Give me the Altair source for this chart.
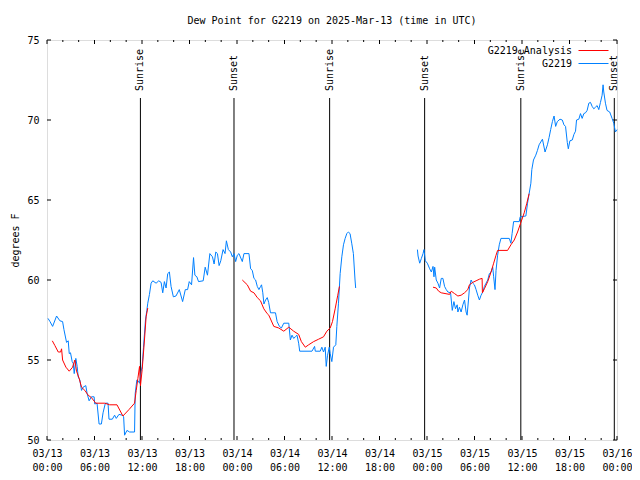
import altair as alt
import pandas as pd

FONT = "DejaVu Sans Mono"

# x values: hours after 2025-03-13 00:00 UTC
obs1_h = [0.13, 0.38, 0.71, 1.21, 1.63, 1.97, 2.14, 2.47, 2.68, 2.81, 2.97, 3.18, 3.31, 3.44, 3.64, 3.81, 3.94,
          4.15, 4.36, 4.56, 4.9, 5.07, 5.32, 5.61, 5.95, 6.03, 6.32, 6.58, 6.87, 7.08, 7.37, 7.71, 7.83, 8.25,
          8.54, 8.75, 9.09, 9.51, 9.68, 9.8, 10.1, 10.43, 11.06, 11.14, 11.35, 11.52, 11.69, 11.9, 12.02, 12.19,
          12.44, 12.61, 12.73, 12.94, 13.15, 13.36, 13.78, 14.12, 14.41, 14.62, 14.83, 15.04, 15.25, 15.46, 15.67,
          15.96, 16.29, 16.71, 17.13, 17.47, 17.76, 17.97, 18.26, 18.51, 18.68, 18.93, 19.14, 19.73, 19.98, 20.27,
          20.57, 20.9, 21.11, 21.32, 21.53, 21.74, 21.95, 22.24, 22.49, 22.66, 22.91, 23.2, 23.41, 23.62, 23.83,
          24.04, 24.25, 24.67, 24.88, 25.51, 25.72, 25.93, 26.14, 26.35, 26.56, 26.77, 26.98, 27.1, 27.26, 27.4,
          27.61, 27.82, 28.0, 28.23, 28.86, 29.07, 29.36, 29.61, 29.91, 30.54, 30.74, 30.95, 31.16, 31.37, 31.58,
          31.79, 31.92, 33.47, 33.8, 33.89, 34.51, 34.72, 34.93, 35.14, 35.27, 35.44, 35.65, 35.77, 35.98, 36.19,
          36.48, 36.61, 36.82, 37.03, 37.24, 37.45, 37.66, 37.87, 38.07, 38.28, 38.49, 38.7, 38.91, 38.99]
obs1_v = [57.6, 57.4, 57.1, 57.75, 57.45, 57.4, 56.9, 56.1, 56.2, 55.4, 55.45, 54.9, 54.8, 54.15, 55.1, 54.6, 53.95,
          53.75, 53.1, 53.3, 53.4, 52.9, 52.45, 52.7, 52.7, 52.25, 52.3, 51.0, 51.0, 51.7, 52.3, 52.3, 51.3, 51.3,
          51.55, 51.35, 51.6, 51.55, 51.45, 50.3, 50.6, 50.5, 50.5, 52.9, 53.75, 53.7, 53.55, 54.3, 54.6, 55.8,
          57.5, 58.1, 58.55, 59.1, 59.8, 59.95, 59.8, 59.95, 59.85, 59.2, 59.9, 59.5, 60.4, 60.5, 59.6,
          58.95, 59.0, 59.4, 58.65, 59.4, 59.4, 59.9, 59.7, 61.4, 60.3, 60.2, 59.9, 59.95, 60.8, 60.3,
          61.65, 61.45, 61.0, 61.75, 61.65, 60.9, 61.2, 61.9, 61.65, 62.45, 61.9, 61.75, 61.45, 61.65, 61.15,
          61.55, 61.65, 61.15, 61.65, 61.65, 60.7, 60.6, 60.1, 60.0, 59.6, 59.4, 59.6, 59.7, 59.2, 58.5,
          58.75, 58.9, 58.6, 57.95, 57.95, 57.4, 57.1, 57.0, 57.3, 57.3, 56.25, 56.55, 56.35, 56.45, 56.55,
          56.05, 55.55, 55.55, 55.85, 55.55, 55.55, 55.8, 55.5, 55.8, 54.6, 55.3, 55.8, 55.4, 54.9, 55.8,
          55.95, 57.1, 58.55, 60.4, 61.45, 62.2, 62.6, 62.9, 63.0, 62.9, 62.3, 61.65, 60.0, 59.5]

obs2_h = [46.79, 46.87, 47.08, 47.29, 47.5, 47.62, 47.79, 48.04, 48.34, 48.55, 48.76, 48.88, 48.97, 49.17, 49.38,
          49.59, 49.8, 50.01, 50.22, 50.43, 50.64, 50.98, 51.19, 51.4, 51.6, 51.81, 51.9, 52.1, 52.31, 52.53,
          52.74, 52.94, 53.07, 53.24, 53.36, 53.57, 53.78, 53.99, 54.2, 54.41, 54.62, 54.83, 55.04, 55.25, 55.46,
          55.67, 55.88, 56.09, 56.3, 56.42, 56.59, 56.72, 56.92, 57.13, 57.34, 58.39, 58.6, 58.75, 58.94, 59.65,
          59.77, 60.49, 60.7, 60.9, 61.12, 61.24, 61.45, 61.74, 61.95, 62.16, 62.58, 62.91, 63.21, 63.42, 63.62,
          63.84, 64.05, 64.25, 64.46, 64.8, 65.09, 65.3, 65.5, 65.72, 65.85, 66.05, 66.35, 66.56, 66.76, 66.89,
          67.18, 67.39, 67.6, 67.81, 68.02, 68.23, 68.44, 68.65, 68.86, 69.07, 69.28, 69.49, 69.7, 69.91, 70.12,
          70.24, 70.33, 70.54, 70.74, 71.08, 71.38, 71.59, 71.8, 72.0]
obs2_v = [61.9, 61.5, 61.05, 61.35, 61.65, 61.9, 61.2, 61.05, 60.7, 60.5, 60.85, 60.2, 60.8, 60.0, 59.8,
          59.5, 60.1, 60.1, 59.6, 59.4, 59.25, 59.2, 58.1, 58.65, 58.2, 58.45, 58.0, 58.3, 58.0, 58.45,
          58.75, 58.0, 57.8, 58.75, 59.5, 60.0, 59.8, 59.7, 59.4, 59.05, 58.75, 59.05, 59.25, 59.6, 59.8,
          60.0, 60.4, 60.5, 60.8, 60.2, 59.4, 60.6, 61.55, 62.2, 62.6, 62.6, 62.3, 62.9, 63.65, 63.65,
          63.95, 64.0, 64.8, 65.4, 66.05, 66.9, 67.5, 67.8, 68.1, 68.45, 68.8, 68.0, 68.45, 68.9, 69.4,
          69.9, 70.25, 69.6, 69.9, 70.05, 70.0, 69.7, 69.6, 68.6, 68.2, 68.7, 68.75, 69.1, 69.3, 70.0,
          70.05, 70.4, 70.1, 70.4, 70.45, 70.6, 71.05, 71.1, 70.85, 70.7, 70.8, 70.9, 70.65, 71.1, 71.55,
          72.2, 71.75, 71.05, 70.6, 70.5, 70.1, 69.8, 69.25, 69.4]

ana1_h = [0.67, 1.0, 1.42, 1.72, 1.84, 1.97, 2.39, 2.81, 3.23, 3.52, 3.73, 4.06, 4.36, 4.78, 5.2, 5.61, 6.16,
          7.29, 7.92, 8.84, 9.59, 10.35, 11.06, 11.27, 11.48, 11.69, 11.81, 12.02, 12.31, 12.52, 12.73]
ana1_v = [56.2, 55.9, 55.5, 55.5, 55.7, 55.0, 54.55, 54.3, 54.55, 55.0, 54.3, 53.85, 53.3, 53.1, 52.8, 52.65, 52.3,
          52.3, 52.2, 52.2, 51.5, 51.9, 52.3, 53.1, 53.85, 54.6, 53.4, 54.4, 56.25, 57.7, 58.25]
ana2_h = [24.67, 25.3, 25.72, 26.14, 26.56, 26.97, 27.39, 27.81, 28.02, 28.65, 29.28, 29.91, 30.54, 31.16, 31.79,
          32.13, 32.63, 33.05, 33.68, 34.31, 34.93, 35.35, 35.77, 36.06, 36.4, 36.73, 36.94]
ana2_v = [60.0, 59.7, 59.3, 59.2, 58.9, 58.7, 58.2, 57.9, 57.8, 57.1, 57.0, 56.8, 57.05, 56.8, 56.6,
          56.15, 55.8, 55.95, 56.15, 56.3, 56.45, 56.8, 57.0, 57.4, 58.2, 59.05, 59.6]
ana3_h = [48.76, 49.17, 49.47, 49.8, 50.85, 51.06, 51.48, 51.9, 52.31, 52.74, 53.15, 53.36, 53.78, 54.2, 54.62,
          54.96, 55.0, 55.25, 55.67, 56.09, 56.42, 56.72, 56.92, 58.18, 58.6, 59.02, 59.44, 59.86, 60.28, 60.61, 60.9]
ana3_v = [59.55, 59.5, 59.3, 59.2, 59.1, 59.3, 59.15, 59.0, 59.05, 59.2, 59.4, 59.7, 59.85, 59.95, 60.05,
          60.1, 59.2, 59.45, 59.9, 60.5, 61.05, 61.55, 61.85, 61.85, 62.2, 62.5, 63.0, 63.6, 64.2, 64.8, 65.4]

series_names = ["G2219 Analysis", "G2219"]
series_colors = ["#ff0000", "#0080ff"]

sun_hours = [11.8, 23.62, 35.7, 47.7, 59.85, 71.66]
sun_labels = ["Sunrise", "Sunset", "Sunrise", "Sunset", "Sunrise", "Sunset"]

x_major = list(range(0, 73, 6))
x_minor = [h for h in range(0, 73, 2) if h % 6 != 0]
y_ticks = [50, 55, 60, 65, 70, 75]

W, H = 570, 400


def seg_df(hours, vals, series, seg):
    return pd.DataFrame({"h": hours, "v": vals, "series": series, "seg": seg})


obs_df = pd.concat([seg_df(obs1_h, obs1_v, "G2219", "o1"), seg_df(obs2_h, obs2_v, "G2219", "o2")])
ana_df = pd.concat([seg_df(ana1_h, ana1_v, "G2219 Analysis", "a1"),
                    seg_df(ana2_h, ana2_v, "G2219 Analysis", "a2"),
                    seg_df(ana3_h, ana3_v, "G2219 Analysis", "a3")])

x_scale = alt.Scale(domain=[0, 72], nice=False, zero=False)
y_scale = alt.Scale(domain=[50, 75], nice=False, zero=False)

label_expr = ("['03/' + (13 + floor(datum.value / 24)), "
              "(datum.value % 24 < 10 ? '0' : '') + (datum.value % 24) + ':00']")

x_axis = alt.Axis(values=x_major, labelExpr=label_expr, title=None, ticks=False, tickSize=0, domain=False,
                  grid=False, labelPadding=8, labelLineHeight=14, labelFont=FONT, labelFontSize=10,
                  labelColor="black", labelFlush=False, labelOverlap=False)
y_axis = alt.Axis(values=y_ticks, title="degrees F", titleX=-32, titleY=200, titleAngle=270,
                  titleAlign="center", titleBaseline="middle", titleFont=FONT, titleFontSize=10,
                  titleFontWeight="normal", titleColor="black", ticks=False, tickSize=0, domain=False,
                  grid=False, labelPadding=8, labelFont=FONT, labelFontSize=10, labelColor="black")

color = alt.Color("series:N", scale=alt.Scale(domain=series_names, range=series_colors),
                  legend=alt.Legend(title=None, orient="none", legendX=541, legendY=5,
                                    symbolType="M-3,0H3", symbolSize=100, symbolStrokeWidth=1,
                                    symbolFillColor="transparent",
                                    labelAlign="right", labelOffset={"expr": "-27"},
                                    labelFont=FONT, labelFontSize=10, labelColor="black", rowPadding=2,
                                    padding=0))

obs_line = alt.Chart(obs_df).mark_line(strokeWidth=1).encode(
    x=alt.X("h:Q", scale=x_scale, axis=x_axis),
    y=alt.Y("v:Q", scale=y_scale, axis=y_axis),
    color=color, detail="seg:N", order="h:Q")
ana_line = alt.Chart(ana_df).mark_line(strokeWidth=1).encode(
    x=alt.X("h:Q", scale=x_scale), y=alt.Y("v:Q", scale=y_scale),
    color=color, detail="seg:N", order="h:Q")

sun_df = pd.DataFrame({"h": sun_hours, "label": sun_labels})
sun_rules = alt.Chart(sun_df).mark_rule(color="black", strokeWidth=1).encode(
    x=alt.X("h:Q", scale=x_scale), y=alt.value(58), y2=alt.value(H))
sun_text = alt.Chart(sun_df).mark_text(angle=270, align="left", baseline="middle", font=FONT, fontSize=10,
                                       color="black").encode(
    x=alt.X("h:Q", scale=x_scale), y=alt.value(51), text="label:N")


def xticks(vals, y0, y1):
    return alt.Chart(pd.DataFrame({"t": vals})).mark_rule(color="black", strokeWidth=1).encode(
        x=alt.X("t:Q", scale=x_scale), y=alt.value(y0), y2=alt.value(y1))


def yticks(vals, x0, x1):
    return alt.Chart(pd.DataFrame({"t": vals})).mark_rule(color="black", strokeWidth=1).encode(
        y=alt.Y("t:Q", scale=y_scale), x=alt.value(x0), x2=alt.value(x1))


ticks = [xticks(x_major, H, H - 4), xticks(x_minor, H, H - 2), xticks(x_major, 0, 4), xticks(x_minor, 0, 2),
         yticks(y_ticks, 0, 4), yticks(y_ticks, W, W - 4)]

chart = alt.layer(sun_rules, sun_text, *ticks, obs_line, ana_line).properties(
    width=W, height=H,
    autosize=alt.AutoSizeParams(type="none"),
    padding={"left": 39, "top": 32, "right": 15, "bottom": 32},
    title=alt.TitleParams("Dew Point for G2219 on 2025-Mar-13 (time in UTC)", font=FONT, fontSize=10,
                          fontWeight="normal", color="black", offset=9, anchor="middle"),
).configure_view(stroke="black", strokeWidth=1).configure(background="white")

chart.save("out.html", embed_options={"renderer": "svg", "actions": False})
